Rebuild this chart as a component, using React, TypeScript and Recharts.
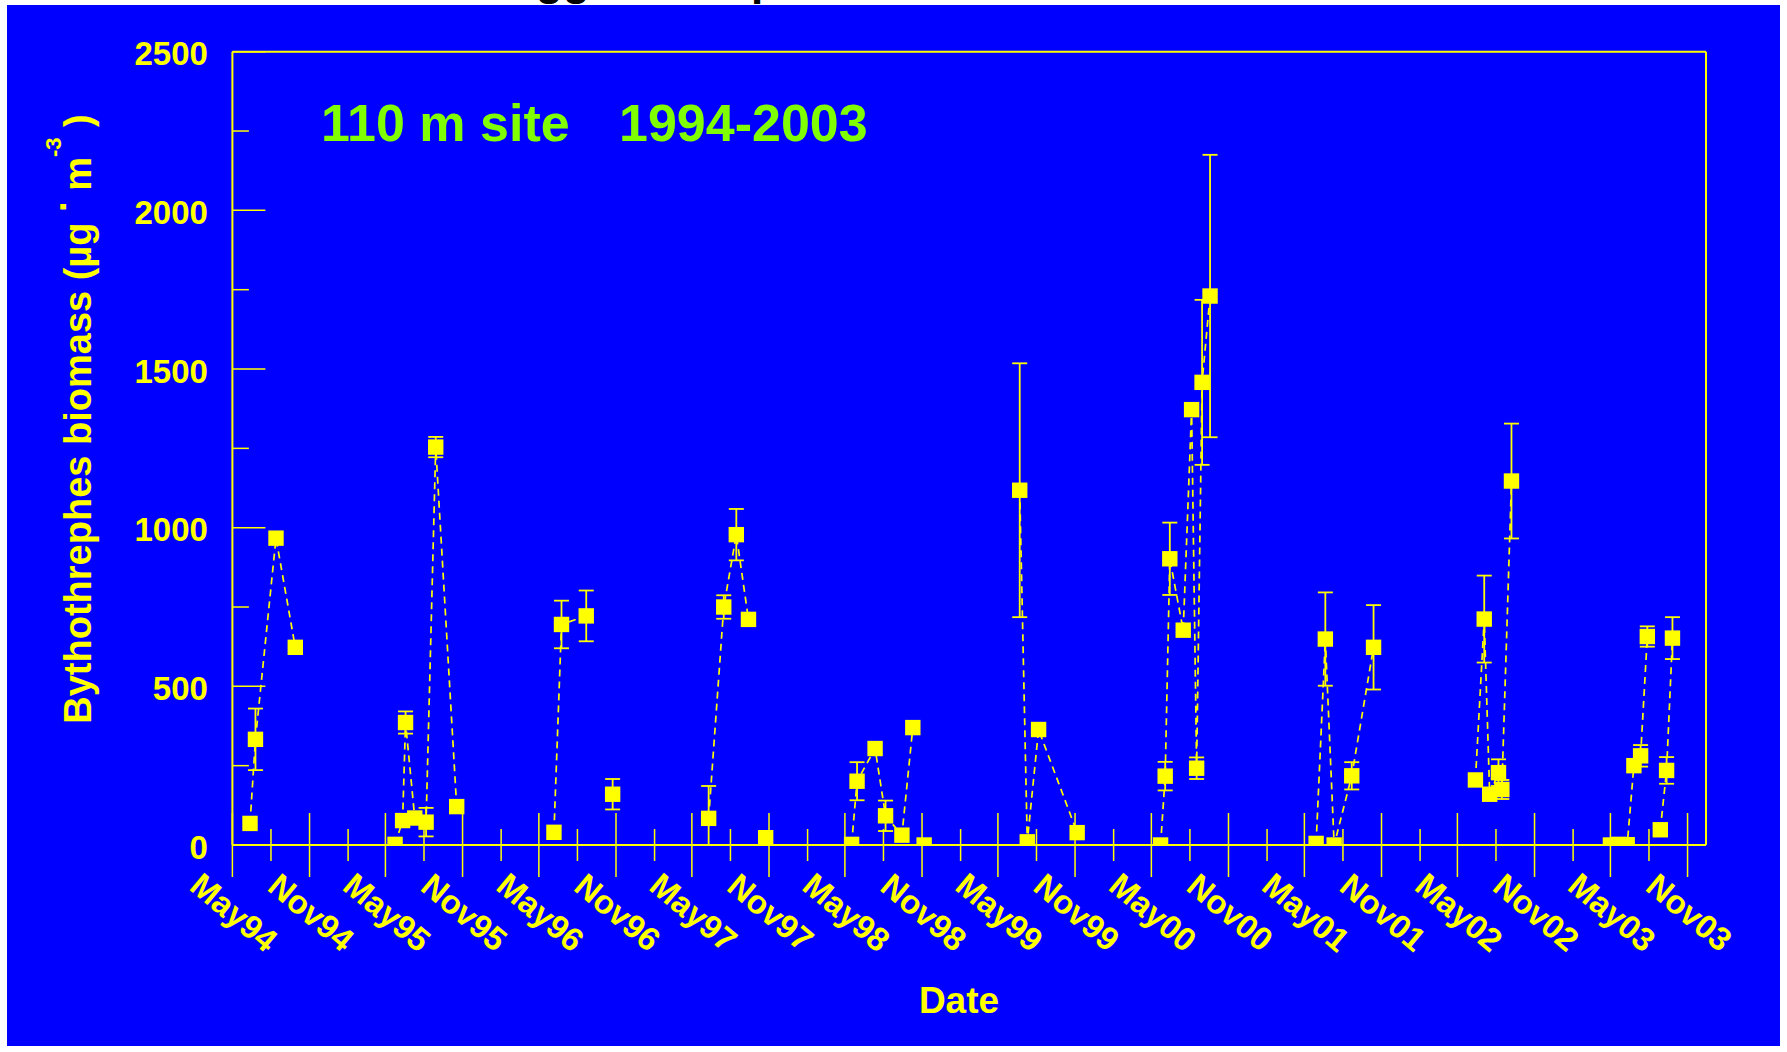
import React from "react";
import { ComposedChart, Line, Scatter, XAxis, YAxis, ErrorBar, ReferenceLine } from "recharts";

const YELLOW = "#FFFF00";
const BLUE = "#0000FF";
const GREEN = "#80FF00";
const FONT = "'Liberation Sans', Arial, Helvetica, sans-serif";

// sampling dates (110 m site)
const sampleDates = [
  "1994-06-12", "1994-06-25", "1994-08-13", "1994-09-28",
  "1995-05-24", "1995-06-11", "1995-06-18", "1995-07-10", "1995-08-06", "1995-08-29", "1995-10-18",
  "1996-06-06", "1996-06-24", "1996-08-22", "1996-10-24",
  "1997-06-10", "1997-07-16", "1997-08-15", "1997-09-13", "1997-10-24",
  "1998-05-17", "1998-05-30", "1998-07-12", "1998-08-06", "1998-09-14", "1998-10-10", "1998-11-06",
  "1999-06-22", "1999-07-10", "1999-08-06", "1999-11-06",
  "2000-05-23", "2000-06-03", "2000-06-14", "2000-07-16", "2000-08-05", "2000-08-17", "2000-08-30", "2000-09-18",
  "2001-05-29", "2001-06-20", "2001-07-11", "2001-08-22", "2001-10-13",
  "2002-06-13", "2002-07-04", "2002-07-17", "2002-08-07", "2002-08-15", "2002-09-07",
  "2003-05-01", "2003-05-21", "2003-06-10", "2003-06-26", "2003-07-12", "2003-07-28", "2003-08-28", "2003-09-12", "2003-09-26",
];

// Bythotrephes biomass (ug m-3)
const biomass = [
  68, 333, 967, 623,
  2, 77, 386, 85, 72, 1254, 121,
  40, 695, 722, 160,
  84, 750, 978, 711, 23,
  2, 201, 304, 92, 31, 370, 0,
  1118, 10, 364, 39,
  0, 217, 902, 677, 1372, 242, 1458, 1730,
  5, 649, 0, 218, 623,
  205, 712, 160, 228, 175, 1147,
  0, 2, 1, 250, 281, 657, 48, 235, 652,
];

// error (SE), null = no error bar, [low, high] = asymmetric
const errorSE: (number | [number, number] | null)[] = [
  null, 97, null, null,
  null, null, 35, null, 45, 32, null,
  null, 75, 80, 48,
  [84, 102], 37, 81, null, null,
  null, 60, null, 48, null, null, null,
  400, null, null, null,
  null, 45, 114, null, null, 34, 260, 445,
  null, 147, null, 43, 133,
  null, 137, null, 42, 30, 181,
  null, null, null, null, 34, 32, null, 42, 66,
];

// connected runs of the dashed line
const runId = [
  1, 1, 1, 1,
  2, 2, 2, 2, 2, 2, 2,
  3, 3, 3, 4,
  5, 5, 5, 5, 6,
  7, 7, 7, 7, 7, 7, 8,
  9, 9, 9, 9,
  10, 10, 10, 10, 10, 10, 10, 10,
  11, 11, 11, 11, 11,
  12, 12, 12, 12, 12, 12,
  13, 13, 13, 13, 13, 13, 14, 14, 14,
];

const xLabels = [
  "May94", "Nov94", "May95", "Nov95", "May96", "Nov96", "May97", "Nov97", "May98", "Nov98",
  "May99", "Nov99", "May00", "Nov00", "May01", "Nov01", "May02", "Nov02", "May03", "Nov03",
];
const xLabelDates = [
  "1994-05-01", "1994-11-01", "1995-05-01", "1995-11-01", "1996-05-01", "1996-11-01",
  "1997-05-01", "1997-11-01", "1998-05-01", "1998-11-01", "1999-05-01", "1999-11-01",
  "2000-05-01", "2000-11-01", "2001-05-01", "2001-11-01", "2002-05-01", "2002-11-01",
  "2003-05-01", "2003-11-01",
];
const yTicks = [0, 250, 500, 750, 1000, 1250, 1500, 1750, 2000, 2250, 2500];
const yLabelValues = [0, 500, 1000, 1500, 2000, 2500];

const toT = (s: string) => {
  const [y, m, d] = s.split("-").map(Number);
  return Date.UTC(y, m - 1, d);
};

const X_MIN = toT("1994-05-01");
const X_MAX = toT("2003-12-15");

// quarterly ticks between the labelled May / Nov dates
const xTicks: number[] = [];
for (let i = 0; i < xLabelDates.length - 1; i++) {
  const a = toT(xLabelDates[i]);
  const [y, m] = xLabelDates[i].split("-").map(Number);
  xTicks.push(a);
  xTicks.push(Date.UTC(y, m - 1 + 3, 1));
}
xTicks.push(toT(xLabelDates[xLabelDates.length - 1]));
const labelMap = new Map<number, string>();
xLabelDates.forEach((d, i) => labelMap.set(toT(d), xLabels[i]));

const points = sampleDates.map((d, i) => ({
  t: toT(d),
  v: biomass[i],
  err: errorSE[i] === null ? undefined : errorSE[i],
}));

const lineData: { t: number; v: number | null }[] = [];
points.forEach((p, i) => {
  if (i > 0 && runId[i] !== runId[i - 1]) {
    lineData.push({ t: (points[i - 1].t + p.t) / 2, v: null });
  }
  lineData.push({ t: p.t, v: p.v });
});

const XTick = (props: any) => {
  const { x, y, payload } = props;
  const label = labelMap.get(payload.value);
  const len = label !== undefined ? 32 : 16;
  const cx = x + 2;
  const cy = 912;
  return (
    <g>
      <line x1={x} x2={x} y1={y - len} y2={y + len} stroke={YELLOW} strokeWidth={1.5} />
      {label !== undefined && (
        <text
          x={cx}
          y={cy}
          dy={12}
          textAnchor="middle"
          transform={`rotate(40, ${cx}, ${cy})`}
          fill={YELLOW}
          fontFamily={FONT}
          fontWeight="bold"
          fontSize={33}
        >
          {label}
        </text>
      )}
    </g>
  );
};

const YTick = (props: any) => {
  const { x, y, payload } = props;
  const major = yLabelValues.includes(payload.value);
  const len = major ? 33 : 16.5;
  return (
    <g>
      <line x1={x} x2={x + len} y1={y} y2={y} stroke={YELLOW} strokeWidth={1.5} />
      {major && (
        <text
          x={x - 24.5}
          y={y}
          dy={13.5}
          textAnchor="end"
          fill={YELLOW}
          fontFamily={FONT}
          fontWeight="bold"
          fontSize={33}
        >
          {payload.value}
        </text>
      )}
    </g>
  );
};

const SquareDot = (p: any) => {
  if (p.cx == null || p.cy == null) return <g />;
  return <rect x={p.cx - 7.7} y={p.cy - 7.7} width={15.4} height={15.4} fill={YELLOW} />;
};

export default function App() {
  return (
    <div
      style={{
        position: "absolute",
        left: 0,
        top: 0,
        width: 1787,
        height: 1052,
        background: "#FFFFFF",
        overflow: "hidden",
      }}
    >
      <div
        style={{ position: "absolute", left: 7, top: 5, width: 1773, height: 1041, background: BLUE }}
      />
      <div style={{ position: "absolute", left: 0, top: 0 }}>
        <ComposedChart
          width={1787}
          height={1052}
          data={lineData}
          margin={{ top: 51.7, right: 81, bottom: 0, left: 0 }}
        >
          <XAxis
            type="number"
            dataKey="t"
            domain={[X_MIN, X_MAX]}
            ticks={xTicks}
            interval={0}
            allowDataOverflow
            height={207}
            tickSize={0}
            tickMargin={0}
            tickLine={false}
            axisLine={{ stroke: YELLOW, strokeWidth: 2 }}
            tick={(p: any) => <XTick {...p} />}
          />
          <YAxis
            type="number"
            dataKey="v"
            domain={[0, 2500]}
            ticks={yTicks}
            interval={0}
            allowDataOverflow
            width={232.4}
            tickSize={0}
            tickMargin={0}
            tickLine={false}
            axisLine={{ stroke: YELLOW, strokeWidth: 2 }}
            tick={(p: any) => <YTick {...p} />}
          />
          <ReferenceLine y={2500} stroke={YELLOW} strokeWidth={2} ifOverflow="visible" />
          <ReferenceLine x={X_MAX} stroke={YELLOW} strokeWidth={2} ifOverflow="visible" />
          <Line
            type="linear"
            dataKey="v"
            stroke={YELLOW}
            strokeWidth={1.7}
            strokeDasharray="7 5"
            dot={false}
            activeDot={false}
            connectNulls={false}
            isAnimationActive={false}
          />
          <Scatter data={points} dataKey="v" shape={SquareDot} isAnimationActive={false}>
            <ErrorBar dataKey="err" direction="y" width={7.5} stroke={YELLOW} strokeWidth={1.8} />
          </Scatter>
        </ComposedChart>
      </div>
      <svg
        width={1787}
        height={1052}
        style={{ position: "absolute", left: 0, top: 0, pointerEvents: "none" }}
      >
        <text x={536} y={-5} fontFamily={FONT} fontWeight="bold" fontSize={44} fill="#000000">
          gg
        </text>
        <text x={751} y={-5} fontFamily={FONT} fontWeight="bold" fontSize={44} fill="#000000">
          p
        </text>
        <text x={321} y={141} fontFamily={FONT} fontWeight="bold" fontSize={52} fill={GREEN}>
          110 m site
        </text>
        <text x={619} y={141} fontFamily={FONT} fontWeight="bold" fontSize={52} fill={GREEN}>
          1994-2003
        </text>
        <text
          x={959}
          y={1013.3}
          textAnchor="middle"
          fontFamily={FONT}
          fontWeight="bold"
          fontSize={37}
          fill={YELLOW}
        >
          Date
        </text>
        <text
          x={91}
          y={419}
          textAnchor="middle"
          transform="rotate(-90, 91, 419)"
          fontFamily={FONT}
          fontWeight="bold"
          fontSize={38}
          fill={YELLOW}
        >
          Bythothrephes biomass (µg <tspan dy={-25}>.</tspan>
          <tspan dy={25}> m</tspan>
          <tspan fontSize={22} dy={-30}>-3</tspan>
          <tspan dy={30}> )</tspan>
        </text>
      </svg>
    </div>
  );
}
